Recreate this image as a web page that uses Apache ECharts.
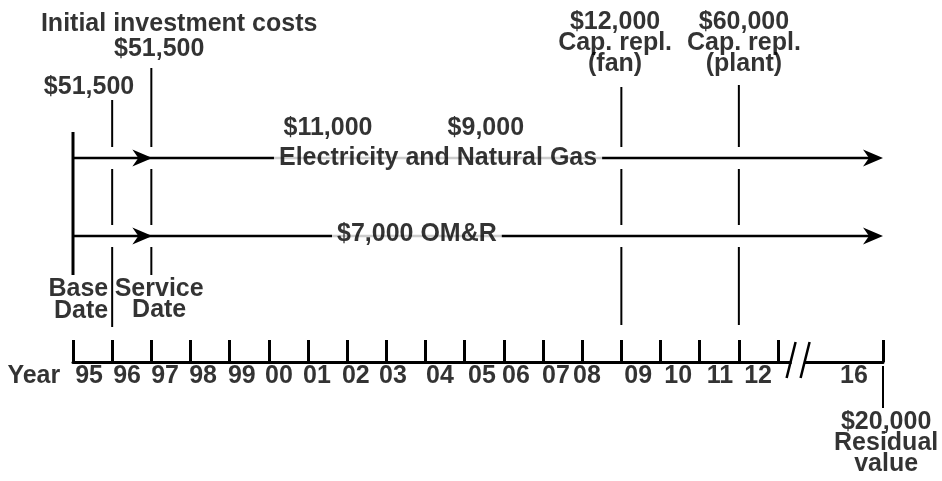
<!DOCTYPE html>
<html>
<head>
<meta charset="utf-8">
<title>Cash flow diagram</title>
<script src="https://cdn.jsdelivr.net/npm/echarts@6.0.0/dist/echarts.min.js"></script>
<style>
  html, body { margin: 0; padding: 0; background: #fff; }
  #chart { width: 942px; height: 481px; }
</style>
</head>
<body>
<div id="chart"></div>
<script>
// timeline: one unit per year tick, 0 = base date
const tickPos = [0, 1, 2, 3, 4, 5, 6, 7, 8, 9, 10, 11, 12, 13, 14, 15, 16, 17, 18, 20.68];
const endPos = 20.68;
const breakPos = 18.5;
const basePos = 0;
const servicePos = 2;

const yearLabels = ['95', '96', '97', '98', '99', '00', '01', '02', '03', '04',
  '05', '06', '07', '08', '09', '10', '11', '12', '16'];
const yearLabelPos = [0.41, 1.38, 2.35, 3.32, 4.31, 5.26, 6.23, 7.22, 8.17, 9.37,
  10.44, 11.31, 12.33, 13.12, 14.43, 15.45, 16.52, 17.49, 19.94];

// cash flows
const investPos = [1, 2];
const investAmt = ['$51,500', '$51,500'];
const energyAmt = ['$11,000', '$9,000'];
const energyLabelPos = [6.51, 10.54];
const omrAmt = '$7,000';
const replPos = [14, 17];
const replAmt = ['$12,000', '$60,000'];
const replItem = ['fan', 'plant'];
const residualAmt = '$20,000';

// heights above the timeline (px)
const H_ENERGY = 204;
const H_OMR = 126;
const GAP = 11;

const font = {
  fontFamily: 'Liberation Sans, Arial, sans-serif',
  fontWeight: 'bold',
  fontSize: 25,
  color: '#000',
  textBorderWidth: 0
};

// vertical cash flow lines, broken where the arrows pass
const splitLine = (x, top, bottom) => [
  [x, top, H_ENERGY + GAP, 2],
  [x, H_ENERGY - GAP, H_OMR + GAP, 2],
  [x, H_OMR - GAP, bottom, 2]
];
const segments = [
  [basePos, 230, 87, 3],
  ...splitLine(investPos[0], 262, 35),
  ...splitLine(investPos[1], 294, 87),
  ...splitLine(replPos[0], 275, 37),
  ...splitLine(replPos[1], 277, 37),
  [endPos, -4, -46, 2]
];

const texts = [
  { name: 'Initial investment costs', value: [2.71, 338] },
  { name: investAmt[1], value: [2.2, 313] },
  { name: investAmt[0], value: [0.41, 275] },
  { name: energyAmt[0], value: [energyLabelPos[0], 234] },
  { name: energyAmt[1], value: [energyLabelPos[1], 234] },
  { name: 'Electricity and Natural Gas', value: [9.32, H_ENERGY], bg: true },
  { name: omrAmt + ' OM&R', value: [8.78, H_OMR + 2], bg: true },
  { name: replAmt[0] + '\nCap. repl.\n(' + replItem[0] + ')', value: [replPos[0] - 0.16, 319] },
  { name: replAmt[1] + '\nCap. repl.\n(' + replItem[1] + ')', value: [replPos[1] + 0.13, 319] },
  { name: 'Service\nDate', value: [servicePos + 0.2, 62] },
  { name: 'Year', value: [-1.0, -14] },
  { name: residualAmt + '\nResidual\nvalue', value: [endPos + 0.08, -81] }
].concat(yearLabels.map((t, i) => ({ name: t, value: [yearLabelPos[i], -14] })));

const chart = echarts.init(document.getElementById('chart'));

chart.setOption({
  animation: false,
  backgroundColor: '#fff',
  grid: { left: 73, right: 59, top: 0, bottom: 0 },
  xAxis: {
    type: 'value',
    min: 0,
    max: endPos,
    splitLine: { show: false },
    axisLine: { show: true, onZero: true, lineStyle: { color: '#000', width: 3 } },
    axisTick: {
      show: true,
      inside: true,
      length: 22,
      customValues: tickPos,
      lineStyle: { color: '#000', width: 3 }
    },
    axisLabel: { show: false }
  },
  yAxis: {
    type: 'value',
    min: -119,
    max: 362,
    show: false
  },
  series: [
    {
      // cash flow lines
      type: 'custom',
      z: 3,
      clip: false,
      data: segments,
      encode: { x: 0, y: [1, 2] },
      renderItem: (params, api) => {
        const a = api.coord([api.value(0), api.value(1)]);
        const b = api.coord([api.value(0), api.value(2)]);
        return {
          type: 'line',
          shape: { x1: a[0], y1: a[1], x2: b[0], y2: b[1] },
          style: { stroke: '#000', lineWidth: api.value(3) }
        };
      }
    },
    {
      // recurring cost arrows
      type: 'custom',
      z: 3,
      clip: false,
      data: [[basePos, endPos, H_ENERGY], [basePos, endPos, H_OMR]],
      encode: { x: [0, 1], y: 2 },
      renderItem: (params, api) => {
        const y = api.value(2);
        const a = api.coord([api.value(0), y]);
        const b = api.coord([api.value(1), y]);
        const s = api.coord([servicePos, y]);
        const head = (p) => ({
          type: 'polygon',
          shape: { points: [[p[0], p[1]], [p[0] - 20, p[1] - 8.5], [p[0] - 14, p[1]], [p[0] - 20, p[1] + 8.5]] },
          style: { fill: '#000' }
        });
        return {
          type: 'group',
          children: [
            { type: 'line', shape: { x1: a[0], y1: a[1], x2: b[0] - 10, y2: b[1] }, style: { stroke: '#000', lineWidth: 2.5 } },
            head([s[0] + 1, s[1]]),
            head(b)
          ]
        };
      }
    },
    {
      // axis break
      type: 'custom',
      z: 4,
      clip: false,
      data: [[breakPos, 0]],
      renderItem: (params, api) => {
        const c = api.coord([api.value(0), api.value(1)]);
        return {
          type: 'group',
          children: [
            { type: 'rect', shape: { x: c[0] - 6, y: c[1] - 3, width: 13, height: 6 }, style: { fill: '#fff' } },
            { type: 'line', shape: { x1: c[0] - 11, y1: c[1] + 16, x2: c[0] - 2, y2: c[1] - 20 }, style: { stroke: '#000', lineWidth: 2.5 } },
            { type: 'line', shape: { x1: c[0] + 3, y1: c[1] + 16, x2: c[0] + 12, y2: c[1] - 20 }, style: { stroke: '#000', lineWidth: 2.5 } }
          ]
        };
      }
    },
    {
      // text
      type: 'scatter',
      z: 5,
      clip: false,
      symbolSize: 0,
      silent: true,
      itemStyle: { color: '#000' },
      data: texts.map((t) => ({
        name: t.name,
        value: t.value,
        label: t.bg ? { backgroundColor: '#fff', padding: [2, 5] } : {}
      })),
      label: Object.assign({
        show: true,
        position: 'inside',
        formatter: '{b}',
        lineHeight: 21
      }, font)
    },
    {
      // base date label, right aligned against the first payment line
      type: 'scatter',
      z: 5,
      clip: false,
      symbolSize: 0,
      silent: true,
      itemStyle: { color: '#000' },
      data: [{ name: 'Base\nDate', value: [0.9, 62] }],
      label: Object.assign({
        show: true,
        position: 'left',
        distance: 0,
        align: 'right',
        formatter: '{b}',
        lineHeight: 22
      }, font)
    }
  ]
});
</script>
</body>
</html>
